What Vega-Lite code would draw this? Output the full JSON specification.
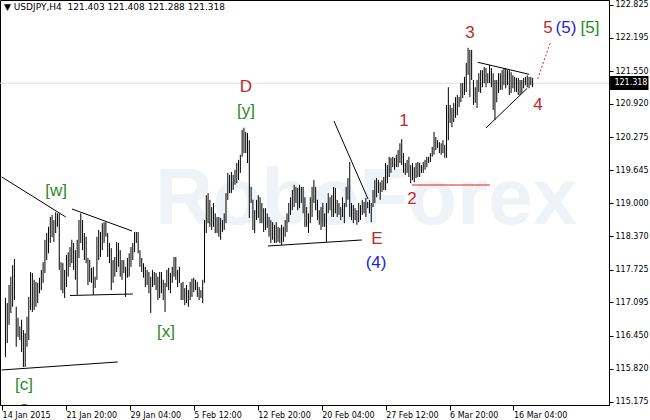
{
"$schema": "https://vega.github.io/schema/vega-lite/v6.json",
"width": 609, "height": 405,
"autosize": {"type": "none"},
"padding": {"left": 0, "top": 0, "right": 41, "bottom": 15},
"background": "white",
"config": {"view": {"stroke": "black", "strokeWidth": 1}, "font": "DejaVu Sans",
 "axis": {"labelOverlap": false, "labelFlush": false, "labelBound": false, "grid": false, "tickColor": "black", "domainColor": "black", "labelColor": "black", "labelFont": "DejaVu Sans", "labelFontSize": 8, "title": null}},
"title": {"text": "▼ USDJPY,H4\u00a0\u00a0121.403 121.408 121.288 121.318", "anchor": "start", "frame": "group", "offset": -21, "dx": 4, "fontSize": 9, "fontWeight": "normal", "font": "DejaVu Sans", "color": "black", "baseline": "bottom"},
"datasets": {
"bid": [{"p": 121.318}],
"mark": [{"t": 201.1, "p": 119.067, "txt": "RoboForex"}],
"box": [{"t": 337.2, "t2": 358.6, "p": 121.457, "p2": 121.187, "v": "121.318", "tl": 339.6}],
"lines": [
{"t": -2.1, "p": 119.511, "t2": 33.6, "p2": 118.740, "kind": "trend"},
{"t": 37.1, "p": 118.894, "t2": 70.6, "p2": 118.470, "kind": "trend"},
{"t": 36.0, "p": 117.227, "t2": 71.1, "p2": 117.256, "kind": "trend"},
{"t": -2.1, "p": 115.792, "t2": 62.6, "p2": 115.946, "kind": "trend"},
{"t": 146.4, "p": 118.181, "t2": 198.8, "p2": 118.297, "kind": "trend"},
{"t": 183.2, "p": 120.590, "t2": 202.2, "p2": 119.087, "kind": "trend"},
{"t": 263.4, "p": 121.721, "t2": 292.1, "p2": 121.489, "kind": "trend"},
{"t": 268.0, "p": 120.455, "t2": 291.0, "p2": 121.220, "kind": "trend"},
{"t": 226.7, "p": 119.356, "t2": 270.2, "p2": 119.356, "kind": "level"},
{"t": 296.8, "p": 121.399, "t2": 304.2, "p2": 122.131, "kind": "target"}
],
"notes": [
{"t": 28.2, "p": 119.241, "txt": "[w]", "deg": "primary"},
{"t": 89.5, "p": 116.524, "txt": "[x]", "deg": "primary"},
{"t": 134.1, "p": 120.782, "txt": "[y]", "deg": "primary"},
{"t": 10.3, "p": 115.503, "txt": "[c]", "deg": "primary"},
{"t": 134.1, "p": 121.245, "txt": "D", "deg": "minor"},
{"t": 207.2, "p": 118.316, "txt": "E", "deg": "minor"},
{"t": 206.7, "p": 117.854, "txt": "(4)", "deg": "intermediate"},
{"t": 222.3, "p": 120.590, "txt": "1", "deg": "minor"},
{"t": 226.7, "p": 119.087, "txt": "2", "deg": "minor"},
{"t": 259.1, "p": 122.285, "txt": "3", "deg": "minor"},
{"t": 297.0, "p": 120.898, "txt": "4", "deg": "minor"},
{"t": 302.6, "p": 122.381, "txt": "5", "deg": "minor"},
{"t": 312.6, "p": 122.381, "txt": "(5)", "deg": "intermediate"},
{"t": 326.0, "p": 122.381, "txt": "[5]", "deg": "primary"}
],
"cut": [{"t": 10.3, "p": 115.0, "txt": "C", "deg": "minor"}],
"bars": [
{"t":0,"h":117.18,"l":116.04},{"t":1,"h":117.08,"l":116.31},{"t":2,"h":117.43,"l":116.66},{"t":3,"h":117.59,"l":116.89},{"t":4,"h":117.81,"l":117.01},{"t":5,"h":117.93,"l":117.14},{"t":6,"h":117.01,"l":116.24},{"t":7,"h":116.80,"l":116.43},{"t":8,"h":116.63,"l":116.37},{"t":9,"h":116.76,"l":116.14},
{"t":10,"h":116.56,"l":115.85},{"t":11,"h":116.50,"l":115.85},{"t":12,"h":116.82,"l":116.24},{"t":13,"h":117.20,"l":116.37},{"t":14,"h":117.68,"l":116.95},{"t":15,"h":117.66,"l":116.91},{"t":16,"h":117.53,"l":116.95},{"t":17,"h":117.49,"l":117.01},{"t":18,"h":117.47,"l":117.08},{"t":19,"h":117.57,"l":117.27},
{"t":20,"h":117.72,"l":117.33},{"t":21,"h":117.87,"l":117.47},{"t":22,"h":118.30,"l":117.66},{"t":23,"h":118.43,"l":117.91},{"t":24,"h":118.55,"l":118.04},{"t":25,"h":118.74,"l":118.24},{"t":26,"h":118.78,"l":118.35},{"t":27,"h":118.68,"l":118.26},{"t":28,"h":118.83,"l":118.43},{"t":29,"h":118.81,"l":118.55},
{"t":30,"h":118.81,"l":117.72},{"t":31,"h":117.87,"l":117.33},{"t":32,"h":117.85,"l":117.27},{"t":33,"h":117.72,"l":117.18},{"t":34,"h":118.01,"l":117.39},{"t":35,"h":118.06,"l":117.59},{"t":36,"h":118.16,"l":117.78},{"t":37,"h":118.30,"l":117.85},{"t":38,"h":118.24,"l":117.72},{"t":39,"h":118.10,"l":117.53},
{"t":40,"h":118.30,"l":117.24},{"t":41,"h":118.68,"l":117.95},{"t":42,"h":118.81,"l":118.24},{"t":43,"h":118.68,"l":118.10},{"t":44,"h":118.43,"l":117.91},{"t":45,"h":118.36,"l":117.85},{"t":46,"h":117.95,"l":117.43},{"t":47,"h":117.91,"l":117.49},{"t":48,"h":117.76,"l":117.47},{"t":49,"h":117.78,"l":117.24},
{"t":50,"h":117.59,"l":117.37},{"t":51,"h":118.36,"l":117.53},{"t":52,"h":118.49,"l":117.91},{"t":53,"h":118.45,"l":117.97},{"t":54,"h":118.62,"l":118.10},{"t":55,"h":118.64,"l":118.24},{"t":56,"h":118.64,"l":118.36},{"t":57,"h":118.43,"l":117.97},{"t":58,"h":118.24,"l":117.85},{"t":59,"h":118.14,"l":117.33},
{"t":60,"h":117.91,"l":117.47},{"t":61,"h":117.97,"l":117.59},{"t":62,"h":118.26,"l":117.68},{"t":63,"h":118.24,"l":117.78},{"t":64,"h":118.10,"l":117.59},{"t":65,"h":117.91,"l":117.53},{"t":66,"h":117.91,"l":117.66},{"t":67,"h":117.78,"l":117.20},{"t":68,"h":117.95,"l":117.57},{"t":69,"h":118.04,"l":117.59},
{"t":70,"h":118.16,"l":117.78},{"t":71,"h":118.24,"l":117.91},{"t":72,"h":118.45,"l":118.06},{"t":73,"h":118.45,"l":118.24},{"t":74,"h":118.45,"l":118.04},{"t":75,"h":118.10,"l":117.78},{"t":76,"h":117.95,"l":117.68},{"t":77,"h":117.85,"l":117.57},{"t":78,"h":117.78,"l":117.39},{"t":79,"h":117.72,"l":117.43},
{"t":80,"h":117.68,"l":117.27},{"t":81,"h":117.59,"l":116.89},{"t":82,"h":117.72,"l":117.39},{"t":83,"h":117.68,"l":117.43},{"t":84,"h":117.66,"l":117.33},{"t":85,"h":117.59,"l":117.14},{"t":86,"h":117.68,"l":117.18},{"t":87,"h":117.68,"l":117.27},{"t":88,"h":117.53,"l":117.14},{"t":89,"h":117.47,"l":116.91},
{"t":90,"h":117.72,"l":117.39},{"t":91,"h":117.76,"l":117.33},{"t":92,"h":117.66,"l":117.27},{"t":93,"h":117.78,"l":117.47},{"t":94,"h":117.97,"l":117.59},{"t":95,"h":117.97,"l":117.53},{"t":96,"h":117.72,"l":117.39},{"t":97,"h":117.78,"l":117.47},{"t":98,"h":117.47,"l":117.14},{"t":99,"h":117.49,"l":117.14},
{"t":100,"h":117.37,"l":117.04},{"t":101,"h":117.43,"l":117.08},{"t":102,"h":117.33,"l":117.01},{"t":103,"h":117.49,"l":117.14},{"t":104,"h":117.55,"l":117.20},{"t":105,"h":117.57,"l":117.29},{"t":106,"h":117.53,"l":117.33},{"t":107,"h":117.49,"l":117.20},{"t":108,"h":117.39,"l":117.14},{"t":109,"h":117.33,"l":117.18},
{"t":110,"h":117.53,"l":117.08},{"t":111,"h":118.68,"l":117.47},{"t":112,"h":119.16,"l":118.43},{"t":113,"h":119.20,"l":118.62},{"t":114,"h":119.07,"l":118.55},{"t":115,"h":118.93,"l":118.49},{"t":116,"h":119.01,"l":118.55},{"t":117,"h":118.81,"l":118.43},{"t":118,"h":118.74,"l":118.43},{"t":119,"h":118.74,"l":118.36},
{"t":120,"h":118.72,"l":118.30},{"t":121,"h":118.68,"l":118.45},{"t":122,"h":118.81,"l":118.49},{"t":123,"h":119.20,"l":118.62},{"t":124,"h":119.59,"l":119.07},{"t":125,"h":119.55,"l":119.20},{"t":126,"h":119.61,"l":119.20},{"t":127,"h":119.55,"l":119.26},{"t":128,"h":119.65,"l":119.36},{"t":129,"h":119.78,"l":119.39},
{"t":130,"h":119.84,"l":119.45},{"t":131,"h":119.94,"l":119.59},{"t":132,"h":120.42,"l":119.90},{"t":133,"h":120.46,"l":119.97},{"t":134,"h":120.38,"l":119.97},{"t":135,"h":120.36,"l":119.78},{"t":136,"h":120.22,"l":118.72},{"t":137,"h":119.32,"l":119.01},{"t":138,"h":119.07,"l":118.49},{"t":139,"h":118.87,"l":118.43},
{"t":140,"h":119.07,"l":118.68},{"t":141,"h":119.16,"l":118.72},{"t":142,"h":119.12,"l":118.62},{"t":143,"h":119.01,"l":118.62},{"t":144,"h":118.91,"l":118.45},{"t":145,"h":118.91,"l":118.49},{"t":146,"h":118.81,"l":118.53},{"t":147,"h":118.74,"l":118.36},{"t":148,"h":118.68,"l":118.24},{"t":149,"h":118.64,"l":118.30},
{"t":150,"h":118.59,"l":118.24},{"t":151,"h":118.64,"l":118.24},{"t":152,"h":118.55,"l":118.26},{"t":153,"h":118.53,"l":118.24},{"t":154,"h":118.59,"l":118.20},{"t":155,"h":118.55,"l":118.26},{"t":156,"h":118.68,"l":118.36},{"t":157,"h":118.81,"l":118.45},{"t":158,"h":119.01,"l":118.64},{"t":159,"h":119.12,"l":118.78},
{"t":160,"h":119.26,"l":118.87},{"t":161,"h":119.36,"l":118.93},{"t":162,"h":119.32,"l":119.01},{"t":163,"h":119.30,"l":118.87},{"t":164,"h":119.36,"l":118.91},{"t":165,"h":119.32,"l":119.01},{"t":166,"h":119.32,"l":118.81},{"t":167,"h":119.12,"l":118.55},{"t":168,"h":118.93,"l":118.55},{"t":169,"h":118.81,"l":118.43},
{"t":170,"h":119.12,"l":118.62},{"t":171,"h":119.32,"l":118.74},{"t":172,"h":119.45,"l":119.01},{"t":173,"h":119.32,"l":118.87},{"t":174,"h":119.07,"l":118.68},{"t":175,"h":118.87,"l":118.59},{"t":176,"h":118.93,"l":118.49},{"t":177,"h":119.01,"l":118.55},{"t":178,"h":118.81,"l":118.55},{"t":179,"h":119.01,"l":118.26},
{"t":180,"h":119.20,"l":118.81},{"t":181,"h":119.12,"l":118.87},{"t":182,"h":119.16,"l":118.74},{"t":183,"h":119.32,"l":118.74},{"t":184,"h":119.30,"l":118.81},{"t":185,"h":119.07,"l":118.74},{"t":186,"h":119.01,"l":118.78},{"t":187,"h":118.93,"l":118.68},{"t":188,"h":119.12,"l":118.74},{"t":189,"h":119.01,"l":118.62},
{"t":190,"h":119.32,"l":118.93},{"t":191,"h":119.49,"l":119.07},{"t":192,"h":119.80,"l":118.74},{"t":193,"h":119.01,"l":118.68},{"t":194,"h":118.97,"l":118.62},{"t":195,"h":118.91,"l":118.68},{"t":196,"h":118.87,"l":118.59},{"t":197,"h":119.01,"l":118.64},{"t":198,"h":118.97,"l":118.68},{"t":199,"h":119.07,"l":118.78},
{"t":200,"h":119.03,"l":118.81},{"t":201,"h":119.11,"l":118.74},{"t":202,"h":119.03,"l":118.91},{"t":203,"h":119.07,"l":118.81},{"t":204,"h":119.01,"l":118.64},{"t":205,"h":119.26,"l":118.93},{"t":206,"h":119.45,"l":119.01},{"t":207,"h":119.49,"l":119.12},{"t":208,"h":119.45,"l":119.20},{"t":209,"h":119.41,"l":119.07},
{"t":210,"h":119.45,"l":119.22},{"t":211,"h":119.51,"l":119.26},{"t":212,"h":119.78,"l":119.26},{"t":213,"h":119.74,"l":119.39},{"t":214,"h":119.90,"l":119.51},{"t":215,"h":119.88,"l":119.59},{"t":216,"h":119.90,"l":119.70},{"t":217,"h":119.88,"l":119.65},{"t":218,"h":119.94,"l":119.70},{"t":219,"h":120.03,"l":119.70},
{"t":220,"h":120.16,"l":119.78},{"t":221,"h":120.24,"l":119.74},{"t":222,"h":119.97,"l":119.59},{"t":223,"h":119.78,"l":119.55},{"t":224,"h":119.84,"l":119.59},{"t":225,"h":119.90,"l":119.51},{"t":226,"h":119.74,"l":119.39},{"t":227,"h":119.78,"l":119.45},{"t":228,"h":119.70,"l":119.41},{"t":229,"h":119.78,"l":119.49},
{"t":230,"h":119.80,"l":119.51},{"t":231,"h":119.78,"l":119.51},{"t":232,"h":119.74,"l":119.59},{"t":233,"h":119.80,"l":119.59},{"t":234,"h":119.84,"l":119.65},{"t":235,"h":119.90,"l":119.70},{"t":236,"h":119.90,"l":119.78},{"t":237,"h":119.97,"l":119.80},{"t":238,"h":120.09,"l":119.90},{"t":239,"h":120.38,"l":119.94},
{"t":240,"h":120.28,"l":120.03},{"t":241,"h":120.22,"l":120.07},{"t":242,"h":120.18,"l":119.97},{"t":243,"h":120.16,"l":119.94},{"t":244,"h":120.22,"l":119.97},{"t":245,"h":120.13,"l":119.88},{"t":246,"h":120.90,"l":119.88},{"t":247,"h":121.24,"l":120.22},{"t":248,"h":120.90,"l":120.55},{"t":249,"h":120.84,"l":120.47},
{"t":250,"h":120.94,"l":120.57},{"t":251,"h":121.05,"l":120.65},{"t":252,"h":121.09,"l":120.70},{"t":253,"h":121.05,"l":120.86},{"t":254,"h":121.32,"l":120.95},{"t":255,"h":121.32,"l":121.03},{"t":256,"h":121.44,"l":121.09},{"t":257,"h":121.71,"l":121.15},{"t":258,"h":122.00,"l":121.48},{"t":259,"h":121.96,"l":121.05},
{"t":260,"h":121.96,"l":121.38},{"t":261,"h":121.38,"l":120.90},{"t":262,"h":121.24,"l":120.94},{"t":263,"h":121.38,"l":120.84},{"t":264,"h":121.51,"l":121.15},{"t":265,"h":121.57,"l":121.13},{"t":266,"h":121.57,"l":121.24},{"t":267,"h":121.63,"l":121.32},{"t":268,"h":121.61,"l":121.24},{"t":269,"h":121.51,"l":121.32},
{"t":270,"h":121.67,"l":121.32},{"t":271,"h":121.61,"l":121.24},{"t":272,"h":121.51,"l":120.80},{"t":273,"h":121.38,"l":120.61},{"t":274,"h":121.38,"l":120.95},{"t":275,"h":121.51,"l":121.13},{"t":276,"h":121.51,"l":121.19},{"t":277,"h":121.57,"l":121.19},{"t":278,"h":121.61,"l":121.28},{"t":279,"h":121.61,"l":121.22},
{"t":280,"h":121.57,"l":121.28},{"t":281,"h":121.57,"l":121.09},{"t":282,"h":121.53,"l":121.13},{"t":283,"h":121.47,"l":121.22},{"t":284,"h":121.44,"l":121.15},{"t":285,"h":121.42,"l":121.15},{"t":286,"h":121.42,"l":121.09},{"t":287,"h":121.38,"l":121.09},{"t":288,"h":121.38,"l":121.13},{"t":289,"h":121.42,"l":121.22},
{"t":290,"h":121.44,"l":121.28},{"t":291,"h":121.47,"l":121.24},{"t":292,"h":121.44,"l":121.22},{"t":293,"h":121.44,"l":121.28},{"t":294,"h":121.42,"l":121.24}
]
},
"layer": [
{"data": {"name": "mark"}, "mark": {"type": "text", "font": "Liberation Sans", "fontSize": 80, "fontWeight": "bold", "color": "#eff2f6", "align": "center", "baseline": "middle"},
 "encoding": {
  "x": {"field": "t", "type": "quantitative", "scale": {"domain": [-3.05, 336.6], "nice": false, "zero": false}, "title": null,
   "axis": {"values": [-1.88, 33.77, 69.42, 105.07, 140.72, 176.37, 212.02, 247.67, 283.32], "tickCount": 30,
    "labelExpr": "datum.value < 10 ? '14 Jan 2015' : datum.value < 50 ? '21 Jan 20:00' : datum.value < 90 ? '29 Jan 04:00' : datum.value < 120 ? '5 Feb 12:00' : datum.value < 160 ? '12 Feb 20:00' : datum.value < 195 ? '20 Feb 04:00' : datum.value < 230 ? '27 Feb 12:00' : datum.value < 265 ? '6 Mar 20:00' : '16 Mar 04:00'",
    "labelAlign": "left", "labelDx": 1, "labelBaseline": "top", "labelPadding": 1, "tickSize": 5, "labelOverlap": false}},
  "y": {"field": "p", "type": "quantitative", "scale": {"domain": [115.117, 122.921], "nice": false, "zero": false}, "title": null,
   "axis": {"orient": "right", "values": [122.825, 122.195, 121.55, 120.92, 120.275, 119.645, 119.0, 118.37, 117.725, 117.095, 116.45, 115.82, 115.175], "format": ".3f", "tickCount": 30,
    "tickSize": 4, "labelPadding": 2, "labelBaseline": "middle", "labelOverlap": false}},
  "text": {"field": "txt"}}},
{"data": {"name": "bid"}, "mark": {"type": "rule", "color": "#dedede", "strokeWidth": 1},
 "encoding": {"y": {"field": "p", "type": "quantitative", "scale": {"domain": [115.117, 122.921], "nice": false, "zero": false}, "title": null}}},
{"data": {"name": "bars"}, "mark": {"type": "rule", "color": "black", "strokeWidth": 1},
 "encoding": {
  "x": {"field": "t", "type": "quantitative", "scale": {"domain": [-3.05, 336.6], "nice": false, "zero": false}, "title": null},
  "y": {"field": "l", "type": "quantitative", "scale": {"domain": [115.117, 122.921], "nice": false, "zero": false}, "title": null},
  "y2": {"field": "h"}}},
{"data": {"name": "lines"}, "transform": [{"filter": "datum.kind == 'trend'"}], "mark": {"type": "rule", "color": "black", "strokeWidth": 1},
 "encoding": {"x": {"field": "t", "type": "quantitative", "scale": {"domain": [-3.05, 336.6], "nice": false, "zero": false}, "title": null},
  "y": {"field": "p", "type": "quantitative", "scale": {"domain": [115.117, 122.921], "nice": false, "zero": false}, "title": null},
  "x2": {"field": "t2"}, "y2": {"field": "p2"}}},
{"data": {"name": "lines"}, "transform": [{"filter": "datum.kind == 'level'"}], "mark": {"type": "rule", "color": "#dd2222", "strokeWidth": 1},
 "encoding": {"x": {"field": "t", "type": "quantitative", "scale": {"domain": [-3.05, 336.6], "nice": false, "zero": false}, "title": null},
  "y": {"field": "p", "type": "quantitative", "scale": {"domain": [115.117, 122.921], "nice": false, "zero": false}, "title": null},
  "x2": {"field": "t2"}, "y2": {"field": "p2"}}},
{"data": {"name": "lines"}, "transform": [{"filter": "datum.kind == 'target'"}], "mark": {"type": "rule", "color": "#dd2222", "strokeWidth": 1, "strokeDash": [2, 2]},
 "encoding": {"x": {"field": "t", "type": "quantitative", "scale": {"domain": [-3.05, 336.6], "nice": false, "zero": false}, "title": null},
  "y": {"field": "p", "type": "quantitative", "scale": {"domain": [115.117, 122.921], "nice": false, "zero": false}, "title": null},
  "x2": {"field": "t2"}, "y2": {"field": "p2"}}},
{"data": {"name": "notes"}, "mark": {"type": "text", "font": "Liberation Sans", "fontSize": 17, "align": "center", "baseline": "middle"},
 "encoding": {"x": {"field": "t", "type": "quantitative", "scale": {"domain": [-3.05, 336.6], "nice": false, "zero": false}, "title": null},
  "y": {"field": "p", "type": "quantitative", "scale": {"domain": [115.117, 122.921], "nice": false, "zero": false}, "title": null},
  "text": {"field": "txt"},
  "color": {"field": "deg", "type": "nominal", "scale": {"domain": ["minor", "intermediate", "primary"], "range": ["#c0282d", "#2222dd", "#2a8a2a"]}, "legend": null}}},
{"data": {"name": "cut"}, "mark": {"type": "text", "font": "Liberation Sans", "fontSize": 17, "align": "center", "baseline": "middle", "clip": true, "color": "#c0282d"},
 "encoding": {"x": {"field": "t", "type": "quantitative", "scale": {"domain": [-3.05, 336.6], "nice": false, "zero": false}, "title": null},
  "y": {"field": "p", "type": "quantitative", "scale": {"domain": [115.117, 122.921], "nice": false, "zero": false}, "title": null},
  "text": {"field": "txt"}}},
{"data": {"name": "box"}, "mark": {"type": "rect", "color": "black"},
 "encoding": {"x": {"field": "t", "type": "quantitative", "scale": {"domain": [-3.05, 336.6], "nice": false, "zero": false}, "title": null},
  "y": {"field": "p", "type": "quantitative", "scale": {"domain": [115.117, 122.921], "nice": false, "zero": false}, "title": null},
  "x2": {"field": "t2"}, "y2": {"field": "p2"}}},
{"data": {"name": "box"}, "mark": {"type": "text", "color": "white", "font": "DejaVu Sans", "fontSize": 8, "align": "left", "baseline": "middle"},
 "encoding": {"x": {"field": "tl", "type": "quantitative", "scale": {"domain": [-3.05, 336.6], "nice": false, "zero": false}, "title": null},
  "y": {"datum": 121.318, "type": "quantitative", "scale": {"domain": [115.117, 122.921], "nice": false, "zero": false}, "title": null},
  "text": {"field": "v"}}}
]
}
